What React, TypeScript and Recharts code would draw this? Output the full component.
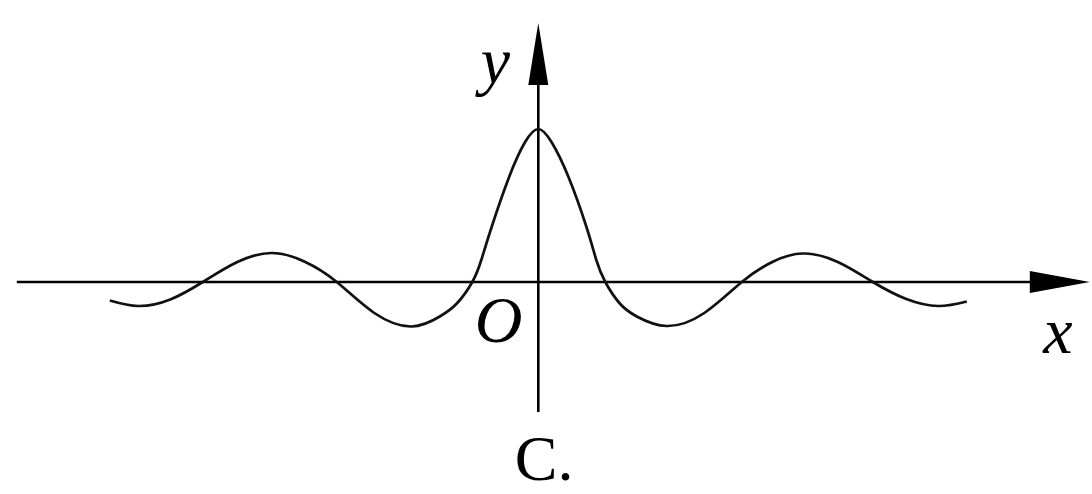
import { LineChart, Line, XAxis, YAxis, ReferenceLine, ReferenceDot } from 'recharts';

// curve, origin at O (1 unit ≈ 50px)
const xs = [
  -8.57, -8.0, -7.36, -6.71, -6.02, -5.33, -4.68, -4.03, -3.28, -2.53, -1.97, -1.63, -1.32,
  -1.14, -0.93, -0.58, -0.27, 0, 0.27, 0.6, 0.96, 1.16, 1.34, 1.63, 1.97, 2.57, 3.32, 4.07,
  4.68, 5.29, 5.99, 6.69, 7.36, 8.0, 8.57,
];
const ys = [
  -0.37, -0.48, -0.35, 0, 0.4, 0.58, 0.41, 0, -0.62, -0.89, -0.69, -0.43, 0,
  0.44, 1.11, 2.11, 2.79, 3.06, 2.79, 2.11, 1.11, 0.44, 0, -0.43, -0.69, -0.88, -0.62, 0,
  0.4, 0.57, 0.4, 0, -0.34, -0.48, -0.39,
];

const axisLabels = ['x', 'y', 'O', 'C.'];

const data = xs.map((x, i) => ({ x, y: ys[i] }));

const W = 1092;
const H = 494;

const arrowX = (p: any) => (
  <g>
    <line x1={p.x1} y1={p.y1} x2={p.x2 - 50} y2={p.y2} stroke="#000" strokeWidth={2.6} />
    <polygon
      points={`${p.x2},${p.y2} ${p.x2 - 60},${p.y2 - 11} ${p.x2 - 60},${p.y2 + 11}`}
      fill="#000"
    />
  </g>
);

const arrowY = (p: any) => {
  const top = Math.min(p.y1, p.y2);
  const bottom = Math.max(p.y1, p.y2);
  return (
    <g>
      <line x1={p.x1} y1={bottom} x2={p.x1} y2={top + 50} stroke="#000" strokeWidth={2.6} />
      <polygon
        points={`${p.x1},${top} ${p.x1 - 10},${top + 62} ${p.x1 + 10},${top + 62}`}
        fill="#000"
      />
    </g>
  );
};

const label = (text: string, italic: boolean, size = 66) => (p: any) => (
  <text
    x={p.cx}
    y={p.cy}
    fontFamily="'Liberation Serif', 'Times New Roman', serif"
    fontStyle={italic ? 'italic' : 'normal'}
    fontSize={size}
    fill="#000"
  >
    {text}
  </text>
);

export default function App() {
  return (
    <div style={{ position: 'absolute', left: 0, top: 0, width: W, height: H, background: '#fff' }}>
      <LineChart width={W} height={H} data={data} margin={{ top: 0, right: 0, bottom: 0, left: 0 }}>
        <XAxis type="number" dataKey="x" domain={[-10.766, 11.074]} hide allowDataOverflow />
        <YAxis type="number" domain={[-4.24, 5.64]} hide allowDataOverflow />
        <ReferenceLine
          segment={[{ x: -10.43, y: 0 }, { x: 11.03, y: 0 }]}
          shape={arrowX}
          ifOverflow="visible"
        />
        <ReferenceLine
          segment={[{ x: 0, y: -2.6 }, { x: 0, y: 5.18 }]}
          shape={arrowY}
          ifOverflow="visible"
        />
        <Line
          type="natural"
          dataKey="y"
          stroke="#111"
          strokeWidth={2.7}
          dot={false}
          activeDot={false}
          isAnimationActive={false}
        />
        <ReferenceDot x={10.1} y={-1.42} r={0} shape={label(axisLabels[0], true)} ifOverflow="visible" />
        <ReferenceDot x={-1.15} y={3.98} r={0} shape={label(axisLabels[1], true)} ifOverflow="visible" />
        <ReferenceDot x={-1.27} y={-1.2} r={0} shape={label(axisLabels[2], true)} ifOverflow="visible" />
        <ReferenceDot x={-0.47} y={-3.96} r={0} shape={label(axisLabels[3], false, 64)} ifOverflow="visible" />
      </LineChart>
    </div>
  );
}
